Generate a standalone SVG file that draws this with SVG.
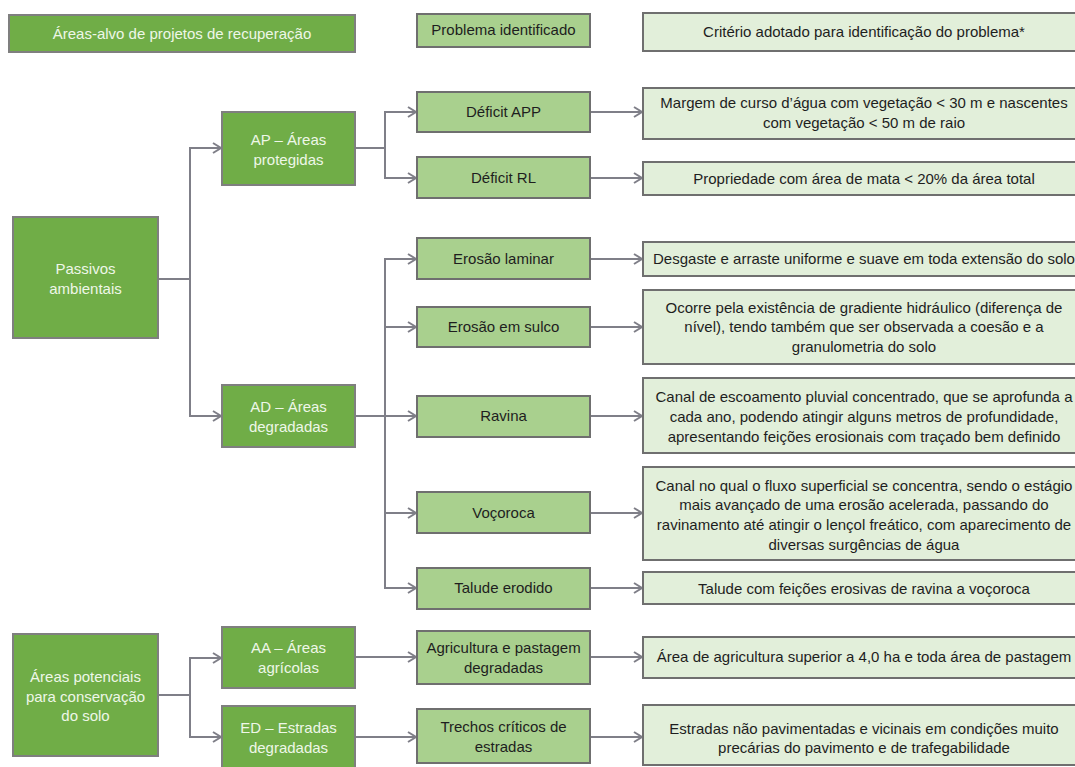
<svg xmlns="http://www.w3.org/2000/svg" width="1075" height="767" viewBox="0 0 1075 767">
<style>
.dk{fill:#70ad47;stroke:#7f7f7f;stroke-width:2}
.md{fill:#a9d08e;stroke:#6f6f6f;stroke-width:2}
.lt{fill:#e2efda;stroke:#6f6f6f;stroke-width:2}
text{font-family:"Liberation Sans",Arial,sans-serif;font-size:15px;text-anchor:middle}
.wt{fill:#eef7e8}
.bk{fill:#1e1e1e}
.cn{fill:none;stroke:#7f7f88;stroke-width:2;marker-end:url(#ar)}
</style>
<defs>
<marker id="ar" markerUnits="userSpaceOnUse" markerWidth="12" markerHeight="14" refX="9" refY="6" orient="auto">
<path d="M1,1 L9,6 L1,11" fill="none" stroke="#7f7f88" stroke-width="2"/>
</marker>
</defs>
<rect width="1075" height="767" fill="#ffffff"/>
<g id="connectors">
<path class="cn" d="M158 279 H190 V148 H221"/>
<path class="cn" d="M190 279 V416 H221"/>
<path class="cn" d="M355 148 H385 V112 H416"/>
<path class="cn" d="M385 148 V178 H416"/>
<path class="cn" d="M355 416 H416"/>
<path class="cn" d="M385 416 V259 H416"/>
<path class="cn" d="M385 327 H416"/>
<path class="cn" d="M385 416 V588 H416"/>
<path class="cn" d="M385 513 H416"/>
<path class="cn" d="M158 695 H190 V658 H221"/>
<path class="cn" d="M190 695 V737 H221"/>
<path class="cn" d="M355 657 H416"/>
<path class="cn" d="M355 737 H416"/>
<path class="cn" d="M590 112 H642"/>
<path class="cn" d="M590 178 H642"/>
<path class="cn" d="M590 259 H642"/>
<path class="cn" d="M590 327 H642"/>
<path class="cn" d="M590 416 H642"/>
<path class="cn" d="M590 513 H642"/>
<path class="cn" d="M590 588 H642"/>
<path class="cn" d="M590 657 H642"/>
<path class="cn" d="M590 737 H642"/>
</g>
<g id="h-areas"><rect class="dk" x="9" y="15" width="346" height="37"/><text class="wt" x="182" y="39">Áreas-alvo de projetos de recuperação</text></g>
<g id="h-problema"><rect class="md" x="417" y="14" width="173" height="33"/><text class="bk" x="503.5" y="35">Problema identificado</text></g>
<g id="h-criterio"><rect class="lt" x="643" y="13" width="442" height="38"/><text class="bk" x="864" y="37">Critério adotado para identificação do problema*</text></g>

<g id="passivos"><rect class="dk" x="13" y="217" width="145" height="121"/><text class="wt" x="85.5" y="274">Passivos</text><text class="wt" x="85.5" y="294">ambientais</text></g>
<g id="ap"><rect class="dk" x="222" y="112" width="133" height="73"/><text class="wt" x="288.5" y="145">AP – Áreas</text><text class="wt" x="288.5" y="165">protegidas</text></g>
<g id="ad"><rect class="dk" x="222" y="385" width="133" height="62"/><text class="wt" x="288.5" y="412">AD – Áreas</text><text class="wt" x="288.5" y="432">degradadas</text></g>
<g id="potenciais"><rect class="dk" x="13" y="634" width="145" height="122"/><text class="wt" x="85.5" y="682">Áreas potenciais</text><text class="wt" x="85.5" y="702">para conservação</text><text class="wt" x="85.5" y="721">do solo</text></g>
<g id="aa"><rect class="dk" x="222" y="627" width="133" height="61"/><text class="wt" x="288.5" y="653">AA – Áreas</text><text class="wt" x="288.5" y="673">agrícolas</text></g>
<g id="ed"><rect class="dk" x="222" y="706" width="133" height="66"/><text class="wt" x="288.5" y="733">ED – Estradas</text><text class="wt" x="288.5" y="753">degradadas</text></g>

<g id="deficit-app"><rect class="md" x="417" y="92" width="173" height="40"/><text class="bk" x="503.5" y="117">Déficit APP</text></g>
<g id="deficit-rl"><rect class="md" x="417" y="157" width="173" height="41"/><text class="bk" x="503.5" y="183">Déficit RL</text></g>
<g id="erosao-laminar"><rect class="md" x="417" y="238" width="173" height="41"/><text class="bk" x="503.5" y="264">Erosão laminar</text></g>
<g id="erosao-sulco"><rect class="md" x="417" y="307" width="173" height="40"/><text class="bk" x="503.5" y="332">Erosão em sulco</text></g>
<g id="ravina"><rect class="md" x="417" y="396" width="173" height="41"/><text class="bk" x="503.5" y="421">Ravina</text></g>
<g id="vocoroca"><rect class="md" x="417" y="492" width="173" height="41"/><text class="bk" x="503.5" y="518">Voçoroca</text></g>
<g id="talude"><rect class="md" x="417" y="568" width="173" height="41"/><text class="bk" x="503.5" y="593">Talude erodido</text></g>
<g id="agricultura"><rect class="md" x="417" y="631" width="173" height="53"/><text class="bk" x="503.5" y="653">Agricultura e pastagem</text><text class="bk" x="503.5" y="673">degradadas</text></g>
<g id="trechos"><rect class="md" x="417" y="709" width="173" height="54"/><text class="bk" x="503.5" y="732">Trechos críticos de</text><text class="bk" x="503.5" y="752">estradas</text></g>

<g id="c-app"><rect class="lt" x="643" y="88" width="442" height="51"/><text class="bk" x="864" y="108">Margem de curso d’água com vegetação &lt; 30 m e nascentes</text><text class="bk" x="864" y="128">com vegetação &lt; 50 m de raio</text></g>
<g id="c-rl"><rect class="lt" x="643" y="162" width="442" height="33"/><text class="bk" x="864" y="184">Propriedade com área de mata &lt; 20% da área total</text></g>
<g id="c-laminar"><rect class="lt" x="643" y="242" width="442" height="34"/><text class="bk" x="864" y="264">Desgaste e arraste uniforme e suave em toda extensão do solo</text></g>
<g id="c-sulco"><rect class="lt" x="643" y="290" width="442" height="74"/><text class="bk" x="864" y="313">Ocorre pela existência de gradiente hidráulico (diferença de</text><text class="bk" x="864" y="332">nível), tendo também que ser observada a coesão e a</text><text class="bk" x="864" y="352">granulometria do solo</text></g>
<g id="c-ravina"><rect class="lt" x="643" y="378" width="442" height="75"/><text class="bk" x="864" y="402">Canal de escoamento pluvial concentrado, que se aprofunda a</text><text class="bk" x="864" y="422">cada ano, podendo atingir alguns metros de profundidade,</text><text class="bk" x="864" y="442">apresentando feições erosionais com traçado bem definido</text></g>
<g id="c-vocoroca"><rect class="lt" x="643" y="467" width="442" height="93"/><text class="bk" x="864" y="491">Canal no qual o fluxo superficial se concentra, sendo o estágio</text><text class="bk" x="864" y="510">mais avançado de uma erosão acelerada, passando do</text><text class="bk" x="864" y="530">ravinamento até atingir o lençol freático, com aparecimento de</text><text class="bk" x="864" y="550">diversas surgências de água</text></g>
<g id="c-talude"><rect class="lt" x="643" y="572" width="442" height="32"/><text class="bk" x="864" y="594">Talude com feições erosivas de ravina a voçoroca</text></g>
<g id="c-agricultura"><rect class="lt" x="643" y="637" width="442" height="41"/><text class="bk" x="864" y="662">Área de agricultura superior a 4,0 ha e toda área de pastagem</text></g>
<g id="c-trechos"><rect class="lt" x="643" y="705" width="442" height="60"/><text class="bk" x="864" y="734">Estradas não pavimentadas e vicinais em condições muito</text><text class="bk" x="864" y="753">precárias do pavimento e de trafegabilidade</text></g>
</svg>
